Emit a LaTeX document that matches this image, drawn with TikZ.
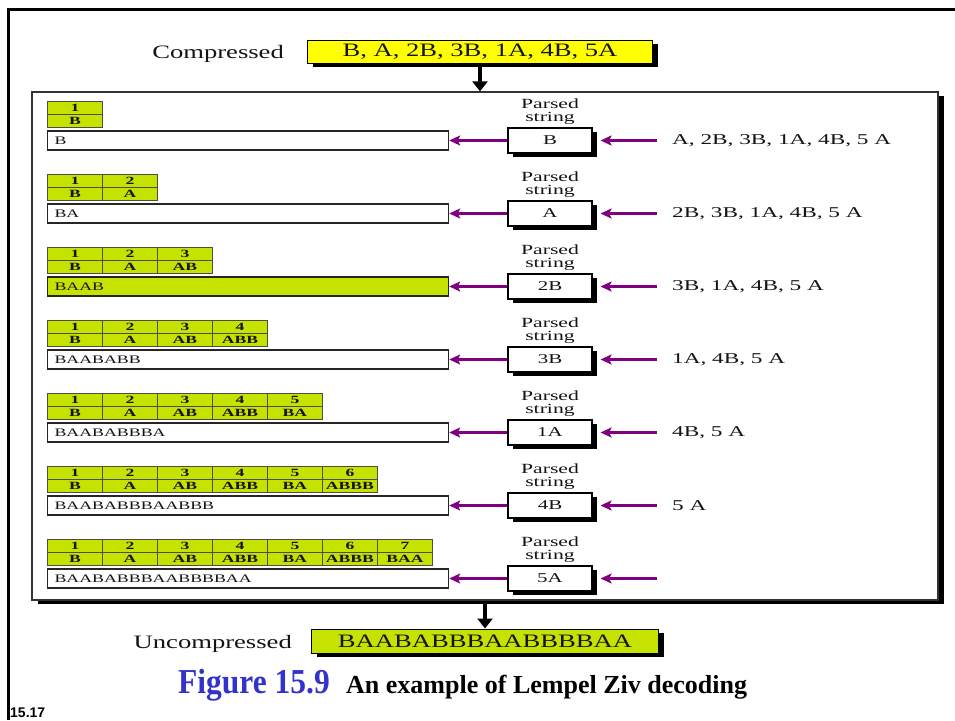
\documentclass[tikz,border=0pt]{standalone}
\usepackage{fontspec}
\setmainfont{Liberation Serif}
\newfontfamily\midserif[FakeStretch=1.4]{Liberation Serif}
\newfontfamily\wideserif[FakeStretch=1.55]{Liberation Serif}
\newfontfamily\tabserif[FakeStretch=1.6]{Liberation Serif}
\newfontfamily\capserif[FakeStretch=0.9]{Liberation Serif}
\newfontfamily\slidesans{Liberation Sans}
\usetikzlibrary{arrows.meta,shadows,calc}

\definecolor{dictgreen}{RGB}{198,226,0}
\definecolor{boxyellow}{RGB}{255,255,0}
\definecolor{arrowpurple}{RGB}{128,0,128}
\definecolor{capblue}{RGB}{51,51,204}
\definecolor{inktext}{RGB}{20,20,20}

% dictionary entries, indexed from 1
\newcommand\dictword[1]{\ifcase#1\or B\or A\or AB\or ABB\or BA\or ABBB\or BAA\fi}

\tikzset{
  shadowed/.style={drop shadow={shadow xshift=5pt,shadow yshift=-4pt,opacity=1,fill=black}},
  mainbox/.style={draw=black!80,line width=1.3pt,fill=white,
    drop shadow={shadow xshift=6pt,shadow yshift=-4pt,opacity=1,fill=black}},
  bigtext/.style={font=\midserif\fontsize{19}{19}\selectfont,text=inktext},
  yellowbox/.style={draw=black,line width=1pt,fill=boxyellow,shadowed,inner sep=0pt,bigtext},
  greenbox/.style={draw=black,line width=1pt,fill=dictgreen,shadowed,inner sep=0pt,bigtext},
  dictcell/.style={draw=black!70,line width=0.8pt,fill=dictgreen,minimum width=55pt,
    minimum height=13pt,inner sep=0pt,text=inktext,
    font=\tabserif\bfseries\fontsize{11}{11}\selectfont},
  strbox/.style={draw=black!85,line width=1.2pt,minimum height=19pt,text width=387pt,
    align=left,inner xsep=7pt,inner ysep=0pt,text=inktext,
    font=\wideserif\fontsize{11.5}{11.5}\selectfont},
  parsedbox/.style={draw=black,line width=1.1pt,fill=white,shadowed,minimum width=84pt,
    minimum height=25pt,inner sep=0pt,text=inktext,
    font=\wideserif\fontsize{13.5}{13.5}\selectfont},
  parsedlabel/.style={align=center,inner sep=0pt,text=inktext,
    font=\wideserif\fontsize{14}{12.5}\selectfont},
  resttext/.style={inner sep=0pt,text=inktext,font=\wideserif\fontsize{15}{15}\selectfont},
  parrow/.style={draw=arrowpurple,line width=2.4pt,
    -{Stealth[length=11pt,width=10pt,inset=2.5pt]}},
  bigarrow/.style={draw=black,line width=4.5pt,-{Triangle[width=15pt,length=10pt]}},
}

\begin{document}
\begin{tikzpicture}[x=1pt,y=-1pt]
\useasboundingbox (0,0) rectangle (955,720);

% slide frame
\draw[line width=3pt,line join=miter] (8,720) -- (8,9.5) -- (955,9.5);

% compressed input
\node[bigtext,inner sep=0pt,anchor=base east] (clab) at (284,58) {Compressed};
\node[yellowbox,minimum width=345pt,minimum height=23pt] (cbox) at (480,51.5)
  {B, A, 2B, 3B, 1A, 4B, 5A};

% decoding panel
\node[mainbox,minimum width=906pt,minimum height=508pt] (main) at (485,346) {};
\draw[bigarrow] (cbox.south) -- (cbox.south |- main.north);

\foreach \str/\parsed/\rest [count=\i] in {
  B/B/{A, 2B, 3B, 1A, 4B, 5 A},
  BA/A/{2B, 3B, 1A, 4B, 5 A},
  BAAB/2B/{3B, 1A, 4B, 5 A},
  BAABABB/3B/{1A, 4B, 5 A},
  BAABABBBA/1A/{4B, 5 A},
  BAABABBBAABBB/4B/{5 A},
  BAABABBBAABBBBAA/5A/{}}
{
  \pgfmathsetmacro\T{131+73*(\i-1)}
  \pgfmathsetmacro\Y{\T+9.5}
  \def\strfill{white}
  \ifnum\i=3 \def\strfill{dictgreen}\fi
  % dictionary built so far
  \foreach \k in {1,...,\i} {
    \node[dictcell,anchor=north west] (d\i-\k-num) at ({47+55*(\k-1)},{\T-30}) {\k};
    \node[dictcell,anchor=north west] (d\i-\k-wrd) at ({47+55*(\k-1)},{\T-17}) {\dictword{\k}};
  }
  % decoded output so far
  \node[strbox,fill=\strfill,anchor=west] (s\i) at (47,\Y) {\str};
  % parsed token
  \node[parsedbox] (p\i) at (550,\Y) {\parsed};
  \node[parsedlabel,anchor=south,yshift=3pt] (pl\i) at (p\i.north) {Parsed\\string};
  \draw[parrow] (p\i.west) -- (s\i.east);
  \coordinate (r\i) at (657,\Y);
  \draw[parrow,shorten >=8pt] (r\i) -- (p\i.east);
  % tokens still to read
  \node[resttext,anchor=west] (t\i) at (672,\Y) {\rest};
}

% uncompressed output
\node[greenbox,minimum width=347pt,minimum height=24pt] (ubox) at (485,641)
  {BAABABBBAABBBBAA};
\node[bigtext,inner sep=0pt,anchor=base east] (ulab) at (292,648) {Uncompressed};
\draw[bigarrow] (ubox.north |- main.south) -- (ubox.north);

% caption
\node[anchor=base west,inner sep=0pt,text=capblue,
  font=\capserif\bfseries\fontsize{35}{35}\selectfont] (figno) at (178,693) {Figure 15.9};
\node[anchor=base west,inner sep=0pt,text=black,
  font=\bfseries\fontsize{26}{26}\selectfont] (figtitle) at (346,693)
  {An example of Lempel Ziv decoding};
\node[anchor=base west,inner sep=0pt,text=black,
  font=\slidesans\bfseries\fontsize{14}{14}\selectfont] (slideno) at (10,717) {15.17};
\end{tikzpicture}
\end{document}
